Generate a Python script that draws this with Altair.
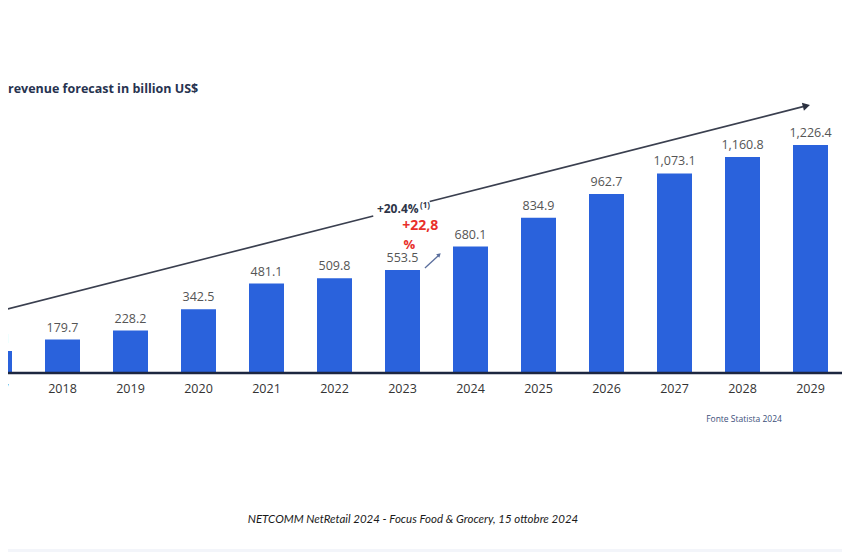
import altair as alt
import pandas as pd

# ---- data ----
years = [2017, 2018, 2019, 2020, 2021, 2022, 2023, 2024, 2025, 2026, 2027, 2028, 2029]
values = [118.1, 179.7, 228.2, 342.5, 481.1, 509.8, 553.5, 680.1, 834.9, 962.7, 1073.1, 1160.8, 1226.4]

# trend arrow (in data coordinates: year, value)
trend_x = [2016.93, 2022.57]
trend_y = [320, 844]
trend2_x = [2023.40, 2028.89]
trend2_y = [922, 1432]
trend_head = (2028.94, 1436)

small_arrow_x = [2023.33, 2023.53]
small_arrow_y = [565, 632]
small_head = (2023.54, 636)

title_text = "revenue forecast in billion US$"
cagr_text = "+20.4%"
cagr_note = "(1)"
growth_text = "+22,8"
source_text = "Fonte Statista 2024"
footer_text = "NETCOMM NetRetail 2024 - Focus Food & Grocery, 15 ottobre  2024"

W, H = 834, 544
BAR = "#2A62DC"
FONT = "Open Sans"

df = pd.DataFrame({"year": years, "value": values})
df["label"] = df["year"].astype(str)

xs = alt.Scale(domain=[2017.1985, 2017.1985 + W / 68.0], nice=False, zero=False, padding=0)
ys = alt.Scale(domain=[-(H - 365) / 0.186, 365 / 0.186], nice=False, zero=False, padding=0)
X = lambda f: alt.X(f, type="quantitative", scale=xs, axis=None)
Y = lambda f: alt.Y(f, type="quantitative", scale=ys, axis=None)

bars = alt.Chart(df).mark_bar(size=35, color=BAR, clip=True).encode(
    x=X("year"), y=Y("value"), y2=alt.datum(0)
)
vlabels = alt.Chart(df).mark_text(
    dy=-5, baseline="bottom", font=FONT, fontSize=12.5, color="#555555", clip=True
).encode(x=X("year"), y=Y("value"), text=alt.Text("value:Q", format=",.1f"))

ylabels = alt.Chart(df).mark_text(
    baseline="middle", font=FONT, fontSize=12.5, color="#333333", clip=True
).encode(x=X("year"), y=alt.value(381), text="label:N")

base_df = pd.DataFrame({"v": [0]})
axis_rule = alt.Chart(base_df).mark_rule(color="#1d2740", strokeWidth=2.5).encode(
    x=alt.value(0), x2=alt.value(W), y=Y("v")
)

tr = pd.DataFrame({"x": [trend_x[0], trend2_x[0]], "x2": [trend_x[1], trend2_x[1]],
                   "y": [trend_y[0], trend2_y[0]], "y2": [trend_y[1], trend2_y[1]]})
trend = alt.Chart(tr).mark_rule(color="#3a3f4f", strokeWidth=1.6, clip=True).encode(
    x=X("x"), x2="x2", y=Y("y"), y2="y2"
)
head = alt.Chart(pd.DataFrame({"x": [trend_head[0]], "y": [trend_head[1]]})).mark_point(
    shape="triangle-right", filled=True, size=70, color="#2b3040", angle=345.7, opacity=1
).encode(x=X("x"), y=Y("y"))

sa = pd.DataFrame({"x": [small_arrow_x[0]], "x2": [small_arrow_x[1]],
                   "y": [small_arrow_y[0]], "y2": [small_arrow_y[1]]})
small = alt.Chart(sa).mark_rule(color="#5a6e9c", strokeWidth=1.3).encode(
    x=X("x"), x2="x2", y=Y("y"), y2="y2"
)
small_h = alt.Chart(pd.DataFrame({"x": [small_head[0]], "y": [small_head[1]]})).mark_point(
    shape="triangle-right", filled=True, size=22, color="#5a6e9c", angle=317, opacity=1
).encode(x=X("x"), y=Y("y"))

cagr = alt.Chart(pd.DataFrame({"x": [2022.93], "y": [882], "t": [cagr_text]})).mark_text(
    font=FONT, fontSize=12, fontWeight="bold", color="#2d3447", baseline="middle"
).encode(x=X("x"), y=Y("y"), text="t:N")
cagr_n = alt.Chart(pd.DataFrame({"x": [2023.33], "y": [900], "t": [cagr_note]})).mark_text(
    font=FONT, fontSize=8, fontWeight="bold", color="#2d3447", baseline="middle"
).encode(x=X("x"), y=Y("y"), text="t:N")

g1 = alt.Chart(pd.DataFrame({"x": [2023.26], "y": [788], "t": [growth_text]})).mark_text(
    font=FONT, fontSize=14, fontWeight="bold", color="#e8302a", baseline="middle"
).encode(x=X("x"), y=Y("y"), text="t:N")
g2 = alt.Chart(pd.DataFrame({"x": [2023.10], "y": [686], "t": ["%"]})).mark_text(
    font=FONT, fontSize=13, fontWeight="bold", color="#e8302a", baseline="middle"
).encode(x=X("x"), y=Y("y"), text="t:N")

txt_df = pd.DataFrame({"t": [title_text]})
title = alt.Chart(txt_df).mark_text(
    font=FONT, fontSize=12.5, fontWeight="bold", color="#273350", align="left", baseline="middle"
).encode(x=alt.value(0), y=alt.value(81), text="t:N")

src = alt.Chart(pd.DataFrame({"t": [source_text]})).mark_text(
    font=FONT, fontSize=8.5, color="#3d4f7a", baseline="middle"
).encode(x=alt.value(736), y=alt.value(411), text="t:N")

footer = alt.Chart(pd.DataFrame({"t": [footer_text]})).mark_text(
    font="Lato", fontSize=11.5, fontStyle="italic", color="#1a1a1a", baseline="middle"
).encode(x=alt.value(405), y=alt.value(512), text="t:N")

band = alt.Chart(pd.DataFrame({"v": [0]})).mark_rect(color="#f3f5fa").encode(
    x=alt.value(-10), x2=alt.value(W + 10), y=alt.value(541), y2=alt.value(H)
)

chart = alt.layer(
    band, bars, vlabels, ylabels, axis_rule, trend, head, small, small_h,
    cagr, cagr_n, g1, g2, title, src, footer
).properties(
    width=W, height=H, padding=0,
    autosize=alt.AutoSizeParams(type="none"),
    background="white"
).configure_view(stroke=None)

chart.save("out.html", embed_options={"renderer": "svg", "actions": False})
